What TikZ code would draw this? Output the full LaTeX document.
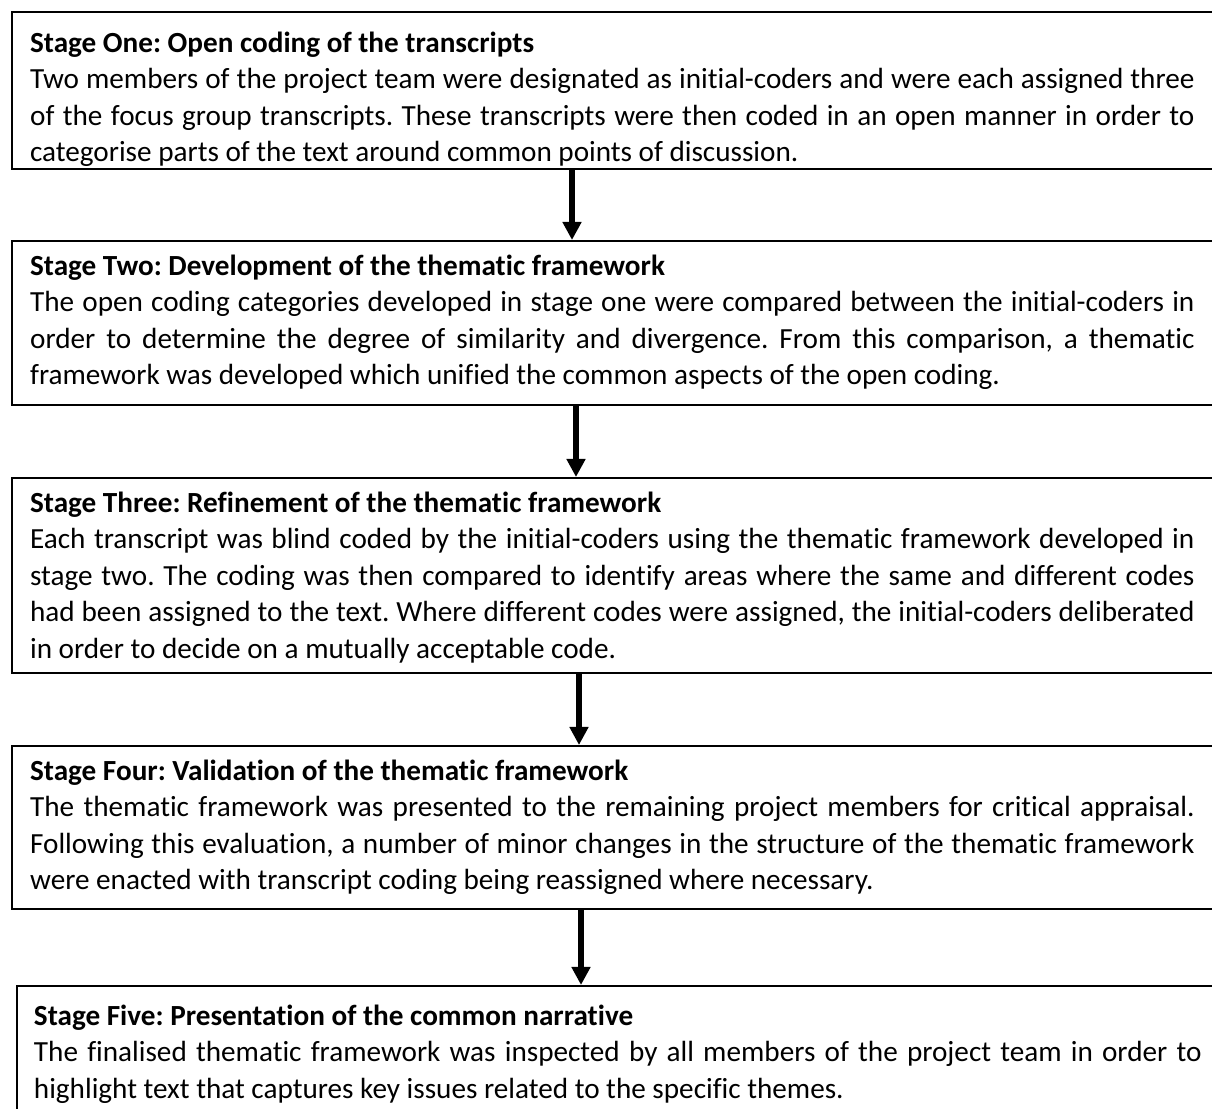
\documentclass[tikz,border=0pt]{standalone}
\usepackage{fontspec}
\setmainfont{Carlito}[Ligatures=NoCommon]
\usetikzlibrary{arrows.meta}
\definecolor{frameBlack}{RGB}{0,0,0}
\hyphenpenalty=10000
\exhyphenpenalty=10000
\tolerance=9999
\frenchspacing

\begin{document}
\begin{tikzpicture}[x=0.01325cm,y=-0.01325cm,
  stagebox/.style={rectangle,draw=frameBlack,line width=0.75pt,anchor=base west,
    text width=15.42cm,align=justify,inner xsep=0.24cm,inner ysep=0pt,
    font=\fontsize{11pt}{13.76pt}\selectfont},
  flowArrow/.style={-{Triangle[width=6.8pt,length=6.8pt]},line width=2pt,draw=frameBlack}]
\useasboundingbox (0,0) rectangle (1212,1108);

\node[stagebox,text height=0.530cm,text depth=1.550cm] (stage1) at (11,52) {\textbf{Stage One: Open coding of the transcripts}\\
Two members of the project team were designated as initial-coders and were each assigned three of the focus group transcripts. These transcripts were then coded in an open manner in order to categorise parts of the text around common points of discussion.};

\node[stagebox,text height=0.4505cm,text depth=1.7225cm] (stage2) at (11,275) {\textbf{Stage Two: Development of the thematic framework}\\
The open coding categories developed in stage one were compared between the initial-coders in\linebreak order to determine the degree of similarity and divergence. From this comparison, a thematic\linebreak framework was developed which unified the common aspects of the open coding.};

\node[stagebox,text height=0.4505cm,text depth=2.133cm] (stage3) at (11,512) {\textbf{Stage Three: Refinement of the thematic framework}\\
Each transcript was blind coded by the initial-coders using the thematic framework developed in stage two. The coding was then compared to identify areas where the same and different codes had been assigned to the text. Where different codes were assigned, the initial-coders deliberated in order to decide on a mutually acceptable code.};

\node[stagebox,text height=0.4505cm,text depth=1.709cm] (stage4) at (11,780) {\textbf{Stage Four: Validation of the thematic framework}\\
The thematic framework was presented to the remaining project members for critical appraisal. Following this evaluation, a number of minor changes in the structure of the thematic framework were enacted with transcript coding being reassigned where necessary.};

\node[stagebox,text width=15.463cm,inner xsep=0.225cm,text height=0.517cm,text depth=1.325cm] (stage5) at (16,1025) {\textbf{Stage Five: Presentation of the common narrative}\\
The finalised thematic framework was inspected by all members of the project team in order to highlight text that captures key issues related to the specific themes.};

\draw[flowArrow] (572,0 |- stage1.south) -- (572,0 |- stage2.north);
\draw[flowArrow] (576,0 |- stage2.south) -- (576,0 |- stage3.north);
\draw[flowArrow] (579,0 |- stage3.south) -- (579,0 |- stage4.north);
\draw[flowArrow] (581,0 |- stage4.south) -- (581,0 |- stage5.north);
\end{tikzpicture}
\end{document}
